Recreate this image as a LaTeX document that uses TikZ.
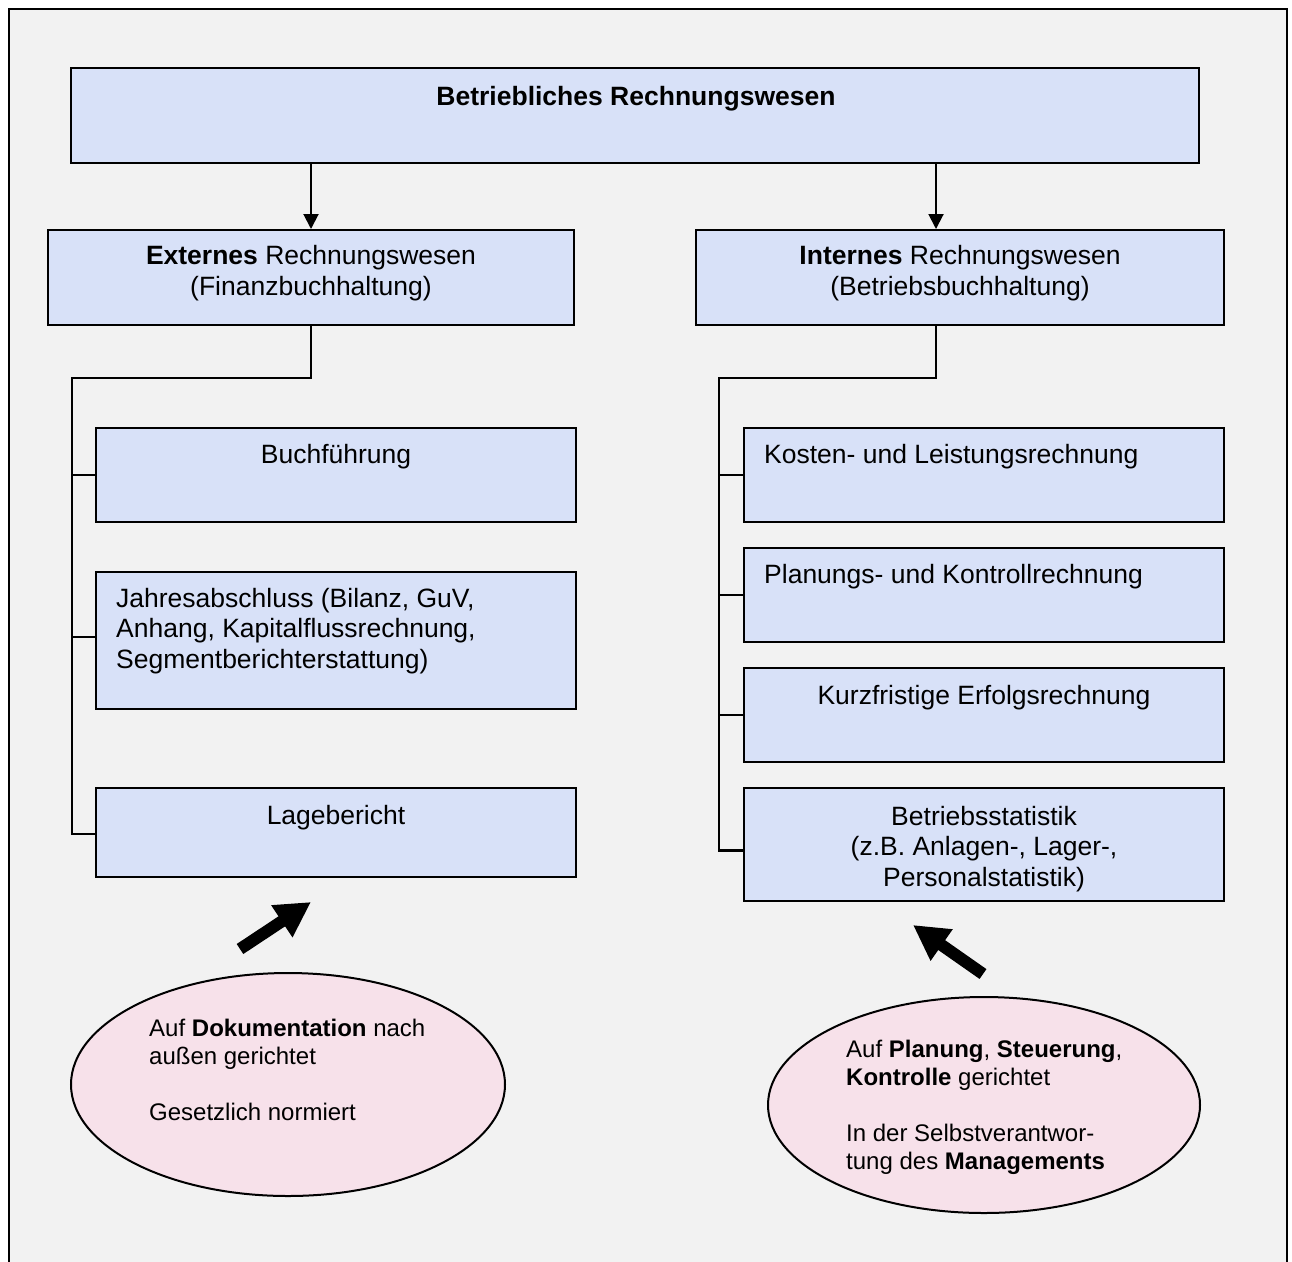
\documentclass[tikz,border=0pt]{standalone}
\usepackage{fontspec}
\setmainfont{Liberation Sans}
\usetikzlibrary{arrows.meta,shapes.geometric}

\definecolor{pagebg}{HTML}{F2F2F2}
\definecolor{boxfill}{HTML}{D8E1F8}
\definecolor{ovalfill}{HTML}{F7E1EA}

% stacked lines whose reference point is the baseline of the first line
\newcommand\centerlines[2][30.5pt]{\vtop{\baselineskip=#1\halign{\hfil##\hfil\cr#2\crcr}}}
\newcommand\leftlines[2][30.5pt]{\vtop{\baselineskip=#1\halign{##\hfil\cr#2\crcr}}}

\begin{document}
\begin{tikzpicture}[x=1pt,y=-1pt,
  box/.style={draw=black, line width=2pt, fill=boxfill, rectangle, inner sep=0pt},
  txt/.style={inner sep=0pt, font=\fontsize{26.5}{30.5}\selectfont},
  ovaltxt/.style={inner sep=0pt, font=\fontsize{24}{28}\selectfont},
  oval/.style={draw=black, line width=2pt, fill=ovalfill, ellipse, inner sep=0pt},
  conn/.style={line width=2.5pt},
  down/.style={line width=2pt, -{Triangle[width=15pt,length=15pt]}},
  hint/.style={line width=12pt, -{Triangle[width=36pt,length=35pt]}}
]
\useasboundingbox (0,0) rectangle (1292,1261);
\fill[white] (0,0) rectangle (1292,1261);
\fill[pagebg] (9,9) rectangle (1287,1270);
\draw[line width=2.5pt] (9,1270) -- (9,9) -- (1287,9) -- (1287,1270);

% top level
\node[box, minimum width=1128pt, minimum height=95pt] (title) at (635,115.5) {};
\node[txt, anchor=base] (titleT) at (636,105.5) {\textbf{Betriebliches Rechnungswesen}};

% second level
\node[box, minimum width=526pt, minimum height=95pt] (ext) at (311,277.5) {};
\node[txt, anchor=base] (extT) at (311,264.5)
  {\centerlines{\textbf{Externes} Rechnungswesen\cr (Finanzbuchhaltung)}};
\node[box, minimum width=528pt, minimum height=95pt] (int) at (960,277.5) {};
\node[txt, anchor=base] (intT) at (960,264.5)
  {\centerlines{\textbf{Internes} Rechnungswesen\cr (Betriebsbuchhaltung)}};

\draw[down] (title.south -| ext.north) -- (ext.north);
\draw[down] ([xshift=-24pt]int.north |- title.south) -- ([xshift=-24pt]int.north);

% external accounting parts
\node[box, minimum width=480pt, minimum height=94pt] (buch) at (336,475) {};
\node[txt, anchor=base] (buchT) at (336,463) {Buchführung};
\node[box, minimum width=480pt, minimum height=137pt] (jahr) at (336,640.5) {};
\node[txt, anchor=base west] (jahrT) at (116,607)
  {\leftlines{Jahresabschluss (Bilanz, GuV,\cr Anhang, Kapitalflussrechnung,\cr Segmentberichterstattung)}};
\node[box, minimum width=480pt, minimum height=89pt] (lage) at (336,832.5) {};
\node[txt, anchor=base] (lageT) at (336,824.5) {Lagebericht};

% internal accounting parts
\node[box, minimum width=480pt, minimum height=94pt] (kost) at (984,475) {};
\node[txt, anchor=base west] (kostT) at (764,463) {Kosten- und Leistungsrechnung};
\node[box, minimum width=480pt, minimum height=94pt] (plan) at (984,595) {};
\node[txt, anchor=base west] (planT) at (764,583.5) {Planungs- und Kontrollrechnung};
\node[box, minimum width=480pt, minimum height=94pt] (kurz) at (984,715) {};
\node[txt, anchor=base] (kurzT) at (984,704) {Kurzfristige Erfolgsrechnung};
\node[box, minimum width=480pt, minimum height=113pt] (stat) at (984,844.5) {};
\node[txt, anchor=base] (statT) at (984,825)
  {\centerlines{Betriebsstatistik\cr (z.B. Anlagen-, Lager-,\cr Personalstatistik)}};

% tree connectors
\coordinate (lbus) at (72,378);
\coordinate (rbus) at (719,378);
\draw[conn] (ext.south) |- (lbus) |- ([yshift=-1.5pt]lage.west);
\draw[conn] (lbus |- buch.west) -- (buch.west);
\draw[conn] ([yshift=3.5pt]jahr.west -| lbus) -- ([yshift=3.5pt]jahr.west);
\draw[conn] ([xshift=-24pt]int.south) |- (rbus) |- ([yshift=-6pt]stat.west);
\draw[conn] (rbus |- kost.west) -- (kost.west);
\draw[conn] (rbus |- plan.west) -- (plan.west);
\draw[conn] (rbus |- kurz.west) -- (kurz.west);

% characteristics
\node[oval, minimum width=434pt, minimum height=223pt] (extOval) at (288,1084.5) {};
\node[ovaltxt, anchor=base west] (extOvalT) at (149,1036)
  {\leftlines[28pt]{Auf \textbf{Dokumentation} nach\cr außen gerichtet\cr\cr Gesetzlich normiert}};
\node[oval, minimum width=432pt, minimum height=216pt] (intOval) at (984,1105) {};
\node[ovaltxt, anchor=base west] (intOvalT) at (846,1057)
  {\leftlines[28pt]{Auf \textbf{Planung}, \textbf{Steuerung},\cr \textbf{Kontrolle} gerichtet\cr\cr In der Selbstverantwor-\cr tung des \textbf{Managements}}};

% pointer arrows
\coordinate (lhTail) at (240,949);
\coordinate (lhTip) at (311,902);
\draw[hint] (lhTail) -- (lhTip);
\coordinate (rhTail) at (983,974);
\coordinate (rhTip) at (913,925);
\draw[hint] (rhTail) -- (rhTip);
\end{tikzpicture}
\end{document}
